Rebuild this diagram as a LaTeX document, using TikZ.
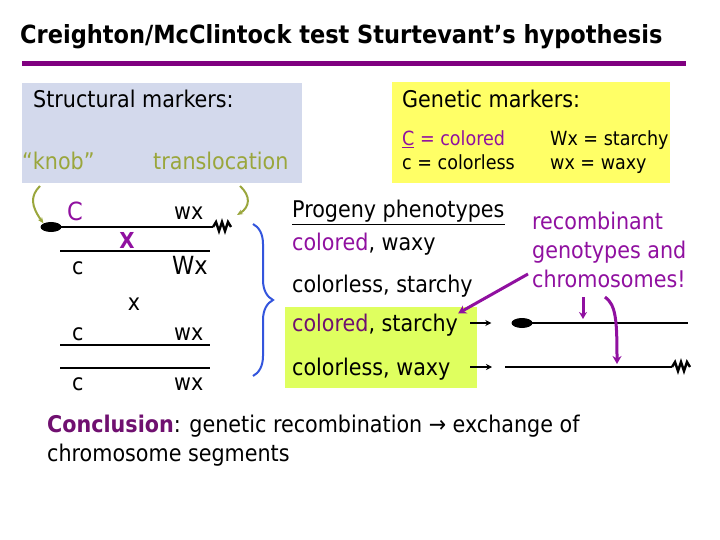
\documentclass[tikz,border=0pt]{standalone}
\usepackage{fontspec}
\setmainfont{DejaVu Sans Condensed}
\usetikzlibrary{positioning,arrows.meta,decorations.pathreplacing,shapes.geometric}
\definecolor{titlebar}{HTML}{800080}
\definecolor{purp}{HTML}{9010A0}
\definecolor{darkpurp}{HTML}{701070}
\definecolor{olive}{HTML}{9AA63C}
\definecolor{greyblue}{HTML}{D3D9EC}
\definecolor{yell}{HTML}{FFFF66}
\definecolor{lime}{HTML}{DFFF5F}
\definecolor{bracecol}{HTML}{3355DD}
\tikzset{
  txt/.style={anchor=base west, inner sep=0pt, font=\fontsize{23}{27}\selectfont},
  small/.style={anchor=base west, inner sep=0pt, font=\fontsize{19.5}{22}\selectfont},
  chrom/.style={line width=2pt},
}
\begin{document}
\begin{tikzpicture}[x=1pt,y=-1pt]
\useasboundingbox[fill=white] (0,0) rectangle (720,540);
% title and bar
\node[anchor=base west, inner sep=0pt, font=\bfseries\fontsize{25}{30}\selectfont] at (20,44) (title) {Creighton/McClintock test Sturtevant’s hypothesis};
\fill[titlebar] (22,61) rectangle (686,66);
% boxes
\fill[greyblue] (22,83) rectangle (302,183);
\fill[yell] (392,82) rectangle (670,183);
\fill[lime] (285,307) rectangle (477,388);
\node[txt] at (33,108) (structural) {Structural markers:};
\node[txt, text=olive] at (22,170) (knob) {“knob”};
\node[txt, text=olive] at (153,170) (transloc) {translocation};
\node[txt] at (402,108) (genetic) {Genetic markers:};
\node[small, text=purp] at (402,146) (Ccol) {\underline{C} = colored};
\node[small] at (402,170) (ccol) {c = colorless};
\node[small] at (550,146) (Wxst) {Wx = starchy};
\node[small] at (550,170) (wxwx) {wx = waxy};
% parental chromosomes
\node[fill, ellipse, minimum width=21pt, minimum height=10pt, inner sep=0pt] at (51,227) (knobL) {};
\draw[chrom] (knobL.center) -- (213,227) coordinate (zigL);
\draw[line width=2.4pt, line join=miter] (zigL) -- (216,222) -- (219,231) -- (222,222) -- (225,231) -- (228,222) -- (231,227) coordinate (transL);
\draw[chrom] (60,251) -- (210,251);
\draw[chrom] (60,345) -- (210,345);
\draw[chrom] (60,368) -- (210,368);
\node[txt, text=purp, font=\fontsize{25}{27}\selectfont] at (67,221) (C1) {C};
\node[txt] at (174,220) (wx1) {wx};
\node[txt, text=purp, font=\bfseries\fontsize{22}{24}\selectfont, anchor=center] at (127,240) (cross) {X};
\node[txt] at (72,274) (c2) {c};
\node[txt, font=\fontsize{25}{27}\selectfont] at (172,274) (Wx2) {Wx};
\node[txt, anchor=center] at (134,304) (times) {x};
\node[txt] at (72,340) (c3) {c};
\node[txt] at (174,340) (wx3) {wx};
\node[txt] at (72,390) (c4) {c};
\node[txt] at (174,390) (wx4) {wx};
% olive arrows
\coordinate (knobStart) at (40,186);
\draw[olive, line width=2pt, -{Stealth[length=6pt,width=5pt]}] (knobStart) .. controls (30,196) and (31,206) .. (knobL.north west);
\coordinate (transStart) at (240,186);
\coordinate (transEnd) at (237,215);
\draw[olive, line width=2pt, -{Stealth[length=6pt,width=5pt]}] (transStart) .. controls (251,196) and (250,207) .. (transEnd);
% brace
\draw[bracecol, line width=2pt, decorate, decoration={brace, amplitude=20pt}] (253,224) -- (253,376);
% progeny
\node[txt] at (292,218) (progeny) {\underline{Progeny phenotypes}};
\node[txt] at (292,250) (p1) {\textcolor{purp}{colored}, waxy};
\node[txt] at (292,292) (p2) {colorless, starchy};
\node[txt] at (292,331) (p3) {\textcolor{darkpurp}{colored}, starchy};
\node[txt] at (292,375) (p4) {colorless, waxy};
% recombinant chromosomes
\node[fill, ellipse, minimum width=21pt, minimum height=10pt, inner sep=0pt] at (522,323) (knobR) {};
\coordinate (endR1) at (688,323);
\draw[chrom] (knobR.center) -- (endR1);
\coordinate (startR2) at (505,367);
\draw[chrom] (startR2) -- (672,367) coordinate (zigR);
\draw[line width=2.4pt, line join=miter] (zigR) -- (675,362) -- (678,371) -- (681,362) -- (684,371) -- (687,362) -- (690,367);
\coordinate (arrowA) at (470,323);
\coordinate (arrowB) at (470,367);
\draw[line width=1.5pt, -{Stealth[length=6pt,width=6pt]}, shorten >=20pt] (arrowA) -- (knobR.west);
\draw[line width=1.5pt, -{Stealth[length=6pt,width=6pt]}, shorten >=13pt] (arrowB) -- (startR2);
% recombinant label
\node[anchor=north west, inner sep=0pt, align=left, text=purp, font=\fontsize{23}{29}\selectfont] at (532,212) (recomb) {recombinant\\genotypes and\\chromosomes!};
\coordinate (fromR) at (528,274);
\coordinate (fromR1) at (583,297);
\coordinate (fromR2) at (605,297);
\coordinate (hitR1) at (583,319);
\coordinate (hitR2) at (617,364);
\draw[purp, line width=3pt, -{Stealth[length=8pt,width=9pt]}] (fromR) -- (p3.north east);
\draw[purp, line width=3pt, -{Stealth[length=7pt,width=8pt]}] (fromR1) -- (hitR1);
\draw[purp, line width=3pt, -{Stealth[length=8pt,width=9pt]}] (fromR2) .. controls (616,305) and (617,320) .. (hitR2);
% conclusion
\node[txt] at (47,432) (concl) {\textcolor{darkpurp}{\bfseries Conclusion}: genetic recombination → exchange of};
\node[txt] at (47,461) (concl2) {chromosome segments};
\end{tikzpicture}
\end{document}
